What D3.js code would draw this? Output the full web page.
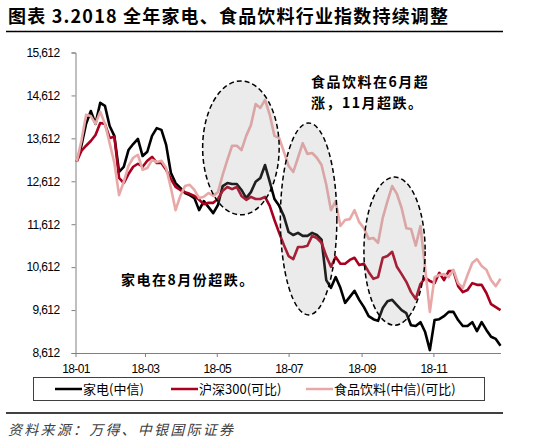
<!DOCTYPE html>
<html>
<head>
<meta charset="utf-8">
<script src="https://cdn.jsdelivr.net/npm/d3@7"></script>
<style>
body{margin:0;background:#fff;}
svg{display:block;}
.axis text{font-family:"Liberation Sans",Arial,sans-serif;font-size:12px;letter-spacing:-0.6px;fill:#000;}
.axis path,.axis line{stroke:#808080;}
</style>
</head>
<body>
<div class="chart"></div>
<script>
// dates, every 4 calendar days
var dates = ['2018-01-02','2018-01-06','2018-01-10','2018-01-14','2018-01-18','2018-01-22','2018-01-26','2018-01-30',
  '2018-02-03','2018-02-07','2018-02-11','2018-02-15','2018-02-19','2018-02-23','2018-02-27',
  '2018-03-03','2018-03-07','2018-03-11','2018-03-15','2018-03-19','2018-03-23','2018-03-27','2018-03-31',
  '2018-04-04','2018-04-08','2018-04-12','2018-04-16','2018-04-20','2018-04-24','2018-04-28',
  '2018-05-02','2018-05-06','2018-05-10','2018-05-14','2018-05-18','2018-05-22','2018-05-26','2018-05-30',
  '2018-06-03','2018-06-07','2018-06-11','2018-06-15','2018-06-19','2018-06-23','2018-06-27',
  '2018-07-01','2018-07-05','2018-07-09','2018-07-13','2018-07-17','2018-07-21','2018-07-25','2018-07-29',
  '2018-08-02','2018-08-06','2018-08-10','2018-08-14','2018-08-18','2018-08-22','2018-08-26','2018-08-30',
  '2018-09-03','2018-09-07','2018-09-11','2018-09-15','2018-09-19','2018-09-23','2018-09-27',
  '2018-10-01','2018-10-05','2018-10-09','2018-10-13','2018-10-17','2018-10-21','2018-10-25','2018-10-29',
  '2018-11-02','2018-11-06','2018-11-10','2018-11-14','2018-11-18','2018-11-22','2018-11-26','2018-11-30',
  '2018-12-04','2018-12-08','2018-12-12','2018-12-16','2018-12-20','2018-12-24','2018-12-28'];

var jiadian = [13070,13440,13950,14250,13950,14440,14370,13900,13670,12830,
  12950,13340,13480,13600,13200,13300,13670,13850,13810,13460,
  12810,12570,12460,12340,12290,12220,11940,12150,12010,11870,
  12060,12500,12570,12550,12550,12410,12220,12360,12600,12690,
  12990,12600,12200,12040,11800,11430,11360,11410,11340,11340,
  11410,11360,11250,10310,10130,10380,10130,9780,9920,10060,
  9850,9680,9470,9400,9360,9660,9820,9850,9730,9610,
  9540,9260,9240,9330,9100,8680,9380,9400,9470,9570,
  9570,9380,9240,9240,9330,9120,9330,9150,8990,8940,
  8780];

var hs300 = [13070,13320,13440,13550,13690,13970,13950,13620,13650,12690,
  12570,12780,12950,13020,12950,13090,13180,13040,13040,12880,
  12670,12480,12410,12360,12320,12270,12180,12080,12110,12110,
  12200,12390,12480,12430,12480,12270,12180,12250,12200,12200,
  12250,12040,11710,11410,11130,10870,10800,11080,11080,11110,
  11340,11290,11180,10870,10620,10850,10690,10690,10780,10830,
  10660,10690,10500,10340,10380,10830,10870,10970,10620,10450,
  10270,10030,9870,10220,10360,10290,10240,10480,10310,10520,
  10520,10170,10030,10080,10240,10200,10200,10010,9750,9680,
  9610];

var shipin = [13070,13550,14160,14130,13950,14230,13950,13500,13040,12290,
  12600,12970,13160,13230,12880,12920,13110,13060,13090,12920,
  12460,11940,12270,12500,12530,12410,12220,12250,12340,12270,
  12360,12760,13110,13440,13440,13340,13670,13920,14410,14320,
  14510,14160,13670,13620,13300,12970,12830,13160,13500,13250,
  13270,13160,12990,12530,11940,12150,11570,11710,11730,11940,
  11660,11520,11270,11290,11180,11760,12150,12500,12320,11990,
  11520,11500,11110,11570,10590,9570,10380,10430,10450,10380,
  10550,10240,10130,10430,10710,10800,10640,10550,10310,10170,
  10340];

var yTicks = [8612,9612,10612,11612,12612,13612,14612,15612];
var seriesNames = ['家电(中信)','沪深300(可比)','食品饮料(中信)(可比)'];
var seriesColors = ['#000000','#a8001e','#e9a8a8'];

// highlighted periods (date span, value span)
var ovalFrom = ['2018-04-19','2018-06-24','2018-09-03'];
var ovalTo = ['2018-06-23','2018-08-11','2018-10-25'];
var ovalLo = [11830,9500,9260];
var ovalHi = [14950,13970,12710];

var width = 550, height = 443;
var parse = d3.timeParse('%Y-%m-%d');

var svg = d3.select('div.chart').append('svg')
  .attr('width', width)
  .attr('height', height);

// title + rules
svg.append('text')
  .attr('x', 8).attr('y', 23)
  .attr('textLength', 440).attr('lengthAdjust', 'spacing')
  .style('font-family', '"Noto Sans CJK SC", sans-serif')
  .style('font-weight', 'bold')
  .style('font-size', '18px')
  .text('图表 3.2018 全年家电、食品饮料行业指数持续调整');
svg.append('line').attr('x1', 6).attr('x2', 503).attr('y1', 31.5).attr('y2', 31.5)
  .attr('stroke', '#000').attr('stroke-width', 1.5);
svg.append('line').attr('x1', 6).attr('x2', 503).attr('y1', 413).attr('y2', 413)
  .attr('stroke', '#000').attr('stroke-width', 1.5);

//scales
var x = d3.scaleTime()
  .domain([parse('2018-01-01'), parse('2018-12-28')])
  .range([75.5, 500.5]);
var y = d3.scaleLinear()
  .domain([8612, 15612])
  .range([353, 52.5]);

var y_axis = d3.axisLeft(y).tickValues(yTicks).tickFormat(d3.format(',')).tickSize(4).tickPadding(12);
var x_axis = d3.axisBottom(x).ticks(d3.timeMonth.every(2)).tickFormat(d3.timeFormat('%y-%m'))
  .tickSize(4).tickSizeOuter(0).tickPadding(7);

svg.append('g').attr('class', 'axis y-axis')
  .attr('transform', 'translate(75.5,0)')
  .call(y_axis);
svg.append('g').attr('class', 'axis x-axis')
  .attr('transform', 'translate(0,353)')
  .call(x_axis);

//lines
var line = d3.line()
  .x(function(d){ return x(d.date) })
  .y(function(d){ return y(d.v) });

[jiadian, hs300, shipin].forEach(function(arr, i){
  var pts = dates.map(function(d, j){ return {date: parse(d), v: arr[j]} });
  svg.append('path')
    .datum(pts)
    .attr('d', line)
    .attr('fill', 'none')
    .attr('stroke', seriesColors[i])
    .attr('stroke-width', 2.6)
    .attr('stroke-linejoin', 'round');
});

// ovals on top
ovalFrom.forEach(function(f, i){
  var x0 = x(parse(f)), x1 = x(parse(ovalTo[i]));
  var y0 = y(ovalHi[i]), y1 = y(ovalLo[i]);
  svg.append('ellipse')
    .attr('cx', (x0 + x1) / 2).attr('cy', (y0 + y1) / 2)
    .attr('rx', (x1 - x0) / 2).attr('ry', (y1 - y0) / 2)
    .attr('fill', '#999')
    .attr('fill-opacity', 0.2)
    .attr('stroke', '#000')
    .attr('stroke-width', 1.5)
    .attr('stroke-dasharray', '5,3');
});

// notes
var noteFont = '"Noto Sans CJK SC", sans-serif';
svg.append('text').attr('x', 311).attr('y', 87)
  .style('font-family', noteFont).style('font-weight', 'bold').style('font-size', '14px')
  .style('letter-spacing', '1.5px').text('食品饮料在6月超');
svg.append('text').attr('x', 311).attr('y', 108)
  .style('font-family', noteFont).style('font-weight', 'bold').style('font-size', '14px')
  .style('letter-spacing', '1.5px').text('涨，11月超跌。');
svg.append('text').attr('x', 121).attr('y', 285)
  .style('font-family', noteFont).style('font-weight', 'bold').style('font-size', '14px')
  .style('letter-spacing', '1.5px').text('家电在8月份超跌。');

// legend
svg.append('rect').attr('x', 33.5).attr('y', 377.5).attr('width', 451).attr('height', 23)
  .attr('fill', 'none').attr('stroke', '#404040').attr('stroke-width', 1);
var legendX = [55, 171, 306];
seriesNames.forEach(function(n, i){
  svg.append('line')
    .attr('x1', legendX[i]).attr('x2', legendX[i] + 27)
    .attr('y1', 389).attr('y2', 389)
    .attr('stroke', seriesColors[i]).attr('stroke-width', 2.5);
  svg.append('text')
    .attr('x', legendX[i] + 28).attr('y', 389)
    .attr('dy', '0.35em')
    .style('font-family', noteFont).style('font-size', '13px')
    .text(n);
});

// source
svg.append('text').attr('x', 8).attr('y', 435)
  .attr('textLength', 225).attr('lengthAdjust', 'spacing')
  .style('font-family', noteFont).style('font-style', 'italic').style('font-size', '14px')
  .style('fill', '#404040')
  .text('资料来源：万得、中银国际证券');
</script>
</body>
</html>
